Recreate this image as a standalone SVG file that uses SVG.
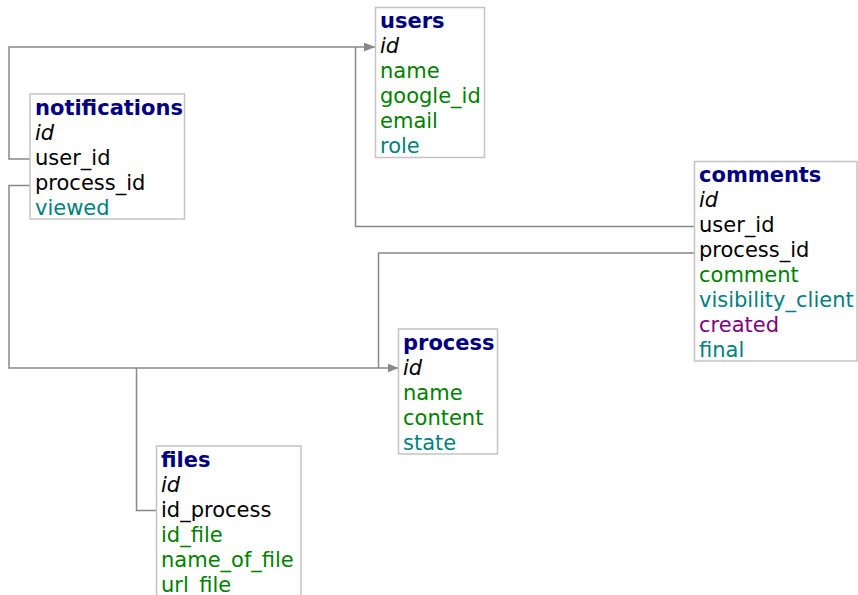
<svg xmlns="http://www.w3.org/2000/svg" width="858" height="595" viewBox="0 0 858 595">
<defs>
<style>
.box{fill:#fff;stroke:#c4c4c4;stroke-width:1.5}
text{font-family:"DejaVu Sans",Verdana,sans-serif;font-size:21px}
.t{font-weight:bold;fill:#000080}
.pk{font-style:italic;fill:#000}
.fk{fill:#000}
.g{fill:#008000}
.c{fill:#008080}
.p{fill:#800080}
.ln{fill:none;stroke:#888;stroke-width:1.5}
</style>
<marker id="arr" markerUnits="userSpaceOnUse" markerWidth="12" markerHeight="10" refX="11" refY="4.5" orient="auto">
<path d="M0,0 L11,4.5 L0,9 z" fill="#888"/>
</marker>
</defs>
<rect width="858" height="595" fill="#fff"/>
<g id="connectors">
<path class="ln" d="M30,159 H9 V47 H375" marker-end="url(#arr)"/>
<path class="ln" d="M694,226.5 H355.5 V47"/>
<path class="ln" d="M30,185.5 H9 V368 H398.5" marker-end="url(#arr)"/>
<path class="ln" d="M694,253 H378.5 V368"/>
<path class="ln" d="M156.5,510.5 H136.5 V368"/>
</g>
<g id="users">
<rect class="box" x="375.5" y="7.5" width="109" height="150"/>
<text x="380" y="28" class="t">users</text>
<text x="380" y="53" class="pk">id</text>
<text x="380" y="78" class="g">name</text>
<text x="380" y="103" class="g">google_id</text>
<text x="380" y="128" class="g">email</text>
<text x="380" y="153" class="c">role</text>
</g>
<g id="notifications">
<rect class="box" x="30" y="94" width="154.5" height="125"/>
<text x="35" y="114.5" class="t">notifications</text>
<text x="35" y="139.5" class="pk">id</text>
<text x="35" y="164.5" class="fk">user_id</text>
<text x="35" y="189.5" class="fk">process_id</text>
<text x="35" y="214.5" class="c">viewed</text>
</g>
<g id="comments">
<rect class="box" x="694.5" y="161.5" width="162.5" height="199.5"/>
<text x="699" y="182" class="t">comments</text>
<text x="699" y="207" class="pk">id</text>
<text x="699" y="232" class="fk">user_id</text>
<text x="699" y="257" class="fk">process_id</text>
<text x="699" y="282" class="g">comment</text>
<text x="699" y="307" class="c">visibility_client</text>
<text x="699" y="332" class="p">created</text>
<text x="699" y="357" class="c">final</text>
</g>
<g id="process">
<rect class="box" x="398.5" y="329" width="99" height="125"/>
<text x="403" y="349.5" class="t">process</text>
<text x="403" y="374.5" class="pk">id</text>
<text x="403" y="399.5" class="g">name</text>
<text x="403" y="424.5" class="g">content</text>
<text x="403" y="449.5" class="c">state</text>
</g>
<g id="files">
<rect class="box" x="156.5" y="446" width="144.5" height="150"/>
<text x="161" y="466.5" class="t">files</text>
<text x="161" y="491.5" class="pk">id</text>
<text x="161" y="516.5" class="fk">id_process</text>
<text x="161" y="541.5" class="g">id_file</text>
<text x="161" y="566.5" class="g">name_of_file</text>
<text x="161" y="591.5" class="g">url_file</text>
</g>
</svg>
